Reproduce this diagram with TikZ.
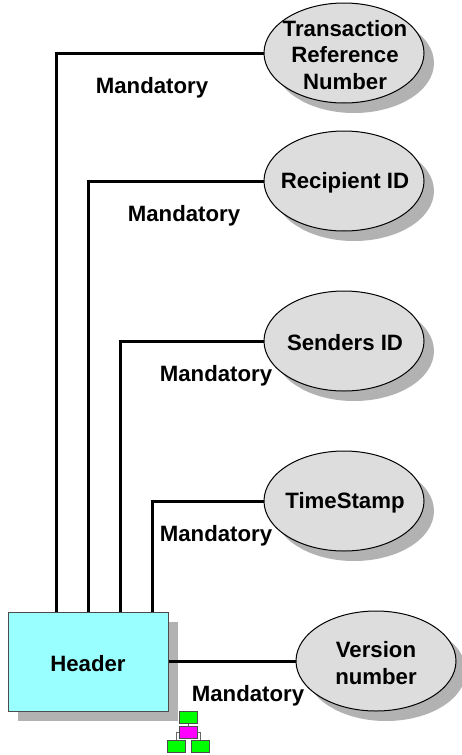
\documentclass[tikz,border=0pt]{standalone}
\usepackage{fontspec}
\setmainfont{Liberation Sans}
\usetikzlibrary{shapes}
\usetikzlibrary{shadows}
\definecolor{headerCyan}{HTML}{99FFFF}
\definecolor{fieldGray}{HTML}{DDDDDD}
\definecolor{shadowGray}{HTML}{B2B2B2}
\definecolor{iconGreen}{HTML}{00FF00}
\definecolor{iconPink}{HTML}{FF00FF}

\begin{document}
\begin{tikzpicture}[x = 1pt, y = -1pt, font=\bfseries\fontsize{22.2}{26.3}\selectfont]
\tikzstyle{plainShadow} = [drop shadow = {shadow xshift = 10pt, shadow yshift = -10pt, fill = shadowGray, opacity = 1}]
\tikzstyle{fieldStyle} = [shape = ellipse, draw, line width = 1pt, fill = fieldGray, minimum width = 160pt, minimum height = 100pt, inner sep = 0pt, plainShadow]
\tikzstyle{headerStyle} = [shape = rectangle, draw = black!70, line width = 1pt, fill = headerCyan, minimum width = 160pt, minimum height = 99pt, inner sep = 0pt, plainShadow]
\tikzstyle{linkStyle} = [line width = 3pt]
\tikzstyle{textStyle} = [align = center, inner sep = 0pt]
\tikzstyle{iconGreenStyle} = [shape = rectangle, draw = black!70, line width = 0.7pt, fill = iconGreen, minimum width = 18pt, minimum height = 12pt, inner sep = 0pt]
\tikzstyle{iconPinkStyle} = [iconGreenStyle, fill = iconPink]
\tikzstyle{iconLinkStyle} = [line width = 0.7pt, draw = black!60]
\useasboundingbox (0, 0) rectangle (461, 755);
% fields
\node[fieldStyle] (e1) at (344, 53) {};
\node[fieldStyle] (e2) at (344, 181) {};
\node[fieldStyle] (e3) at (344, 341) {};
\node[fieldStyle] (e4) at (344, 501) {};
\node[fieldStyle] (e5) at (376, 661) {};
\node[headerStyle] (hdr) at (88, 661.5) {};
% attach points on top of the header
\coordinate (h1) at (56, 612);
\coordinate (h2) at (88, 612);
\coordinate (h3) at (120, 612);
\coordinate (h4) at (152, 612);
\draw[linkStyle] (h1) |- (e1.west);
\draw[linkStyle] (h2) |- (e2.west);
\draw[linkStyle] (h3) |- (e3.west);
\draw[linkStyle] (h4) |- (e4.west);
\draw[linkStyle] (hdr.east |- e5.west) -- (e5.west);
% texts
\node[textStyle] (t1) at (345, 55) {Transaction\\Reference\\Number};
\node[textStyle] (t2) at (345, 183) {Recipient ID};
\node[textStyle] (t3) at (345, 343) {Senders ID};
\node[textStyle] (t4) at (345, 503) {TimeStamp};
\node[textStyle] (t5) at (376, 663) {Version\\number};
\node[textStyle] (t6) at (88, 664) {Header};
\node[textStyle] (m1) at (152, 88) {Mandatory};
\node[textStyle] (m2) at (184, 216) {Mandatory};
\node[textStyle] (m3) at (216, 376) {Mandatory};
\node[textStyle] (m4) at (216, 536) {Mandatory};
\node[textStyle] (m5) at (248, 696) {Mandatory};
% small tree icon
\node[iconGreenStyle] (i1) at (188, 717.5) {};
\node[iconPinkStyle] (i2) at (188, 732) {};
\node[iconGreenStyle] (i3) at (176, 746.5) {};
\node[iconGreenStyle] (i4) at (200, 746.5) {};
\draw[iconLinkStyle] (i1) -- (i2);
\draw[iconLinkStyle] (i2.west) -| (i3.north);
\draw[iconLinkStyle] (i2.east) -| (i4.north);
\end{tikzpicture}
\end{document}
